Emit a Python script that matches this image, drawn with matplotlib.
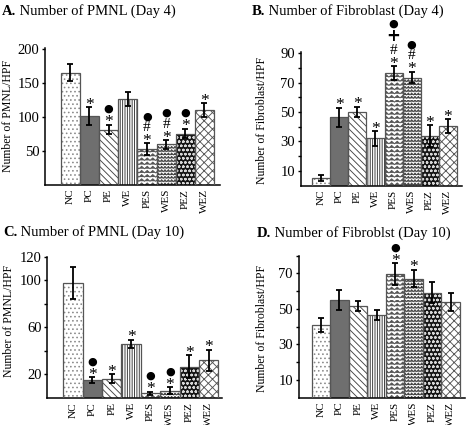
import numpy as np
import matplotlib
matplotlib.use("Agg")
import matplotlib.pyplot as plt
import matplotlib.hatch as mhatch
from matplotlib.path import Path

# ---------------- data ----------------
groups = ["NC", "PC", "PE", "WE", "PES", "WES", "PEZ", "WEZ"]

A_vals = [165, 101, 81, 126, 52, 59, 75, 110]
A_errs = [12, 13, 7, 10.5, 8.5, 6.5, 7, 10]
A_marks = ["", "*", "*●", "", "*#●", "*#●", "*●", "*"]

B_vals = [5, 46.5, 50, 32, 76.5, 73.5, 33.5, 40.5]
B_errs = [2, 6.5, 3.5, 5, 4.5, 4, 7.5, 4.5]
B_marks = ["", "*", "*", "*", "*#+●", "*#●", "*", "*"]

C_vals = [97.5, 15, 16.5, 46, 4, 6, 26.5, 32]
C_errs = [13.5, 2.5, 3.7, 3.4, 1.3, 3, 9.7, 9]
C_marks = ["", "*●", "*", "*", "*●", "*●", "*", "*"]

D_vals = [41, 55, 51.5, 46.5, 69.5, 67, 59, 54]
D_errs = [4, 5.5, 3, 3, 6, 5, 6, 5]
D_marks = ["", "", "", "", "*●", "*", "", ""]

titles = [("A.", "Number of PMNL (Day 4)"),
          ("B.", "Number of Fibroblast (Day 4)"),
          ("C.", "Number of PMNL (Day 10)"),
          ("D.", "Number of Fibroblst (Day 10)")]
ylabels = ["Number of PMNL/HPF", "Number of Fibroblast/HPF",
           "Number of PMNL/HPF", "Number of Fibroblast/HPF"]
A_ticks = [50, 100, 150, 200]
B_ticks = [10, 30, 50, 70, 90]
C_ticks = [20, 60, 100, 120]
D_ticks = [10, 30, 50, 70]

# ---------------- custom zig-zag hatches ----------------
class _ZigZag(mhatch.HatchPatternBase):
    char = "*"
    nzig = 50
    amp = 0.45

    def __init__(self, hatch, density):
        self.num_rows = int(hatch.count(self.char) * density)
        self.num_vertices = self.num_rows * (self.nzig + 1)

    def set_vertices_and_codes(self, vertices, codes):
        steps, stepsize = np.linspace(0.0, 1.0, self.num_rows, False, retstep=True)
        steps += stepsize / 2.0
        k = self.nzig + 1
        xs = np.linspace(0.0, 1.0, k)
        offs = (np.arange(k) % 2) * self.amp * stepsize
        for i, s in enumerate(steps):
            vertices[i * k:(i + 1) * k, 0] = xs
            vertices[i * k:(i + 1) * k, 1] = s + offs
            codes[i * k] = Path.MOVETO
            codes[i * k + 1:(i + 1) * k] = Path.LINETO


class ZigA(_ZigZag):
    char = "*"
    nzig = 36
    amp = 0.6


class ZigB(_ZigZag):
    char = "O"
    nzig = 60
    amp = 0.6


mhatch._hatch_types = [h for h in mhatch._hatch_types
                       if h not in (mhatch.Stars, mhatch.LargeCircles)] + [ZigA, ZigB]

# ---------------- styles ----------------
plt.rcParams["hatch.linewidth"] = 0.65
serif = "Liberation Serif"
styles = [
    dict(fc="white", hc="#8a8a8a", hatch="...."),
    dict(fc="#6f6f6f", hc="#6f6f6f", hatch=None),
    dict(fc="white", hc="#444444", hatch="\\\\\\\\\\"),
    dict(fc="white", hc="#333333", hatch="|||||||"),
    dict(fc="white", hc="#555555", hatch="****"),
    dict(fc="white", hc="#444444", hatch="OOOOO"),
    dict(fc="#151515", hc="#d8d8d8", hatch="oooo"),
    dict(fc="white", hc="#555555", hatch="xxxx"),
]

W, H = 472, 425
fig = plt.figure(figsize=(W / 100, H / 100), dpi=100)


def px_axes(left, right, top, bottom):
    return fig.add_axes([left / W, (H - bottom) / H, (right - left) / W, (bottom - top) / H])


panels = [
    dict(box=(45, 220, 47.5, 184.5), ylim=(0, 202), xlim=(-1.32, 7.81),
         vals=A_vals, errs=A_errs, marks=A_marks, ticks=A_ticks, minor=[],
         tpos=(2, 15), ylab=(8, 116)),
    dict(box=(300.5, 462, 51.8, 185.5), ylim=(0, 91), xlim=(-1.15, 7.79),
         vals=B_vals, errs=B_errs, marks=B_marks, ticks=B_ticks, minor=[20, 40, 60, 80],
         tpos=(252, 15), ylab=(262, 120)),
    dict(box=(47, 222, 256.7, 398), ylim=(0, 120), xlim=(-1.34, 7.69),
         vals=C_vals, errs=C_errs, marks=C_marks, ticks=C_ticks, minor=[40, 80],
         tpos=(3, 236), ylab=(9, 321)),
    dict(box=(298.5, 465, 255.5, 397.5), ylim=(0, 80), xlim=(-1.21, 7.77),
         vals=D_vals, errs=D_errs, marks=D_marks, ticks=D_ticks, minor=[20, 40, 60, 80],
         tpos=(257, 237), ylab=(262, 328)),
]

sym_font = {"*": (serif, 12.5, "normal"), "#": (serif, 11, "normal"),
            "+": ("DejaVu Sans", 12, "bold"), "●": ("DejaVu Sans", 8, "normal")}
sym_dy = {"*": -2.5, "#": 0, "+": 0, "●": 0}
# vertical gap (pixels) from previous symbol centre to this one
sym_gap = {"*": 0, "#": 11, "+": 14, "●": 11}

for p, (lab, title), ylab in zip(panels, titles, ylabels):
    ax = px_axes(*p["box"])
    x = np.arange(len(groups))
    for xi, v, st in zip(x, p["vals"], styles):
        ax.bar(xi, v, width=1.0, color=st["fc"], edgecolor=st["hc"],
               hatch=st["hatch"], linewidth=0, zorder=2)
        ax.bar(xi, v, width=1.0, fill=False, edgecolor="#555555",
               linewidth=0.9, zorder=3)
    ax.errorbar(x, p["vals"], yerr=p["errs"], fmt="none", ecolor="black",
                elinewidth=1.3, capsize=2.3, capthick=1.3, zorder=4)
    # significance marks stacked above the error bars
    for xi, v, e, m in zip(x, p["vals"], p["errs"], p["marks"]):
        off = 5.0
        for j, s in enumerate(m):
            if j > 0:
                off += sym_gap[s] if not (s == "●" and m[j - 1] == "+") else 13
            fam, fs, fw = sym_font[s]
            ax.annotate(s, xy=(xi, v + e), xytext=(0, off + sym_dy[s]),
                        textcoords="offset pixels", ha="center", va="center",
                        family=fam, fontsize=fs, fontweight=fw, zorder=5,
                        annotation_clip=False)
    ax.set_xlim(*p["xlim"])
    ax.set_ylim(*p["ylim"])
    ax.set_xticks(x)
    ax.set_xticklabels(groups, rotation=90, family=serif, fontsize=8)
    ax.tick_params(axis="x", length=0, pad=3)
    ax.set_yticks(p["ticks"])
    ax.set_yticklabels([str(t) for t in p["ticks"]], family=serif, fontsize=10.5)
    ax.set_yticks(p["minor"], minor=True)
    ax.tick_params(axis="y", which="both", direction="out", length=2.5, width=1.0, pad=1.5)
    for sp in ("top", "right"):
        ax.spines[sp].set_visible(False)
    for sp in ("left", "bottom"):
        ax.spines[sp].set_linewidth(1.1)
    ax.patch.set_alpha(0)
    # labels
    fig.text(p["ylab"][0] / W, 1 - p["ylab"][1] / H, ylab, rotation=90,
             ha="center", va="center", family=serif, fontsize=8.5)
    t1 = fig.text(p["tpos"][0] / W, 1 - p["tpos"][1] / H, lab, family=serif,
                  fontsize=10.5, fontweight="bold", ha="left", va="baseline")
    ax.annotate(" " + title, xy=(1, 0), xycoords=t1, va="bottom", ha="left",
                family=serif, fontsize=10.5, annotation_clip=False)

fig.savefig("out.png", dpi=100)
